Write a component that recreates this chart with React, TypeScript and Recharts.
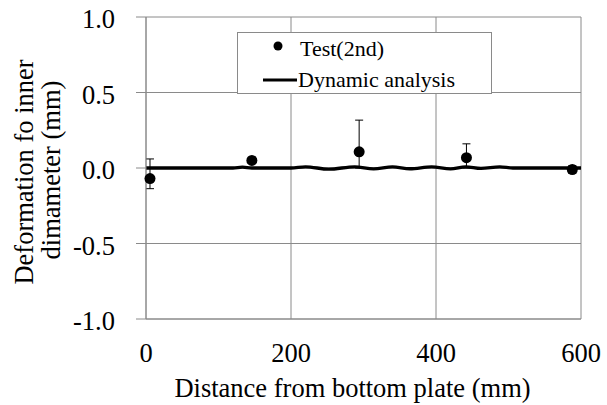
import { ComposedChart, Scatter, Line, XAxis, YAxis, CartesianGrid, ErrorBar } from "recharts"

// Test (2nd) measurements
const testX = [5.5, 146, 294, 442, 588]
const testY = [-0.07, 0.05, 0.107, 0.068, -0.01]
const errLow = [0.067, 0.02, 0.107, 0.068, 0.025]
const errHigh = [0.13, 0.02, 0.21, 0.092, 0.025]

// Dynamic analysis curve
const dynX = [0, 120, 133, 146, 200, 220, 252, 288, 314, 340, 364, 394, 420, 441, 462, 488, 506, 600]
const dynY = [0, 0, 0.006, 0, 0, 0.008, -0.008, 0.008, -0.006, 0.008, -0.005, 0.008, -0.006, 0.008, -0.003, 0.007, 0, 0]

const xTicks = [0, 200, 400, 600]
const yTicks = [-1, -0.5, 0, 0.5, 1]

const seriesNames = ["Test(2nd)", "Dynamic analysis"]

const testData = testX.map((x, i) => ({ x, y: testY[i], err: [errLow[i], errHigh[i]] }))
const dynData = dynX.map((x, i) => ({ x, y: dynY[i] }))

const font = "'Liberation Serif', 'Times New Roman', serif"
const gridColor = "#8a8a8a"

const Dot = (props: any) => <circle cx={props.cx} cy={props.cy} r={5.5} fill="#000" />

// legend box drawn over the plot, like the original
const LegendBox = () => (
  <div
    style={{
      position: "absolute",
      left: 237,
      top: 32,
      width: 255,
      height: 62,
      border: `1px solid ${gridColor}`,
      background: "#fff",
      boxSizing: "border-box",
    }}
  >
    <svg width={253} height={60} style={{ display: "block" }}>
      <circle cx={40} cy={13} r={4.5} fill="#000" />
      <text x={62} y={23} fontFamily={font} fontSize={22} fill="#000">{seriesNames[0]}</text>
      <line x1={25} x2={59} y1={47} y2={47} stroke="#000" strokeWidth={3} />
      <text x={60} y={54} fontFamily={font} fontSize={22} fill="#000">{seriesNames[1]}</text>
    </svg>
  </div>
)

const YTitle = () => (
  <g fontFamily={font} fontSize={26.5} fill="#000">
    <text x={33} y={172} transform="rotate(-90 33 172)" textAnchor="middle">Deformation fo inner</text>
    <text x={60} y={170} transform="rotate(-90 60 170)" textAnchor="middle">dimameter (mm)</text>
  </g>
)

export default function App() {
  return (
    <div style={{ position: "absolute", left: 0, top: 0, width: 607, height: 405, background: "#fff" }}>
      <ComposedChart width={607} height={405} margin={{ top: 17, right: 26, left: 0, bottom: 0 }}>
        <CartesianGrid stroke={gridColor} strokeWidth={1} />
        <XAxis
          dataKey="x"
          type="number"
          domain={[0, 600]}
          ticks={xTicks}
          height={86}
          tickLine={false}
          tickSize={0}
          tickMargin={24}
          stroke={gridColor}
          tick={{ fill: "#000", fontFamily: font, fontSize: 26.5 }}
          label={{ value: "Distance from bottom plate (mm)", position: "insideBottom", offset: 8, dx: -11, fill: "#000", fontFamily: font, fontSize: 26.5 }}
        />
        <YAxis
          type="number"
          domain={[-1, 1]}
          ticks={yTicks}
          width={146}
          tickSize={10}
          tickMargin={21}
          stroke={gridColor}
          tickFormatter={(v: number) => v.toFixed(1)}
          tick={{ fill: "#000", fontFamily: font, fontSize: 26.5, dy: 2 }}
          label={{ content: () => <YTitle /> }}
        />
        <Line
          data={dynData}
          dataKey="y"
          name={seriesNames[1]}
          type="monotone"
          stroke="#000"
          strokeWidth={3.3}
          dot={false}
          isAnimationActive={false}
        />
        <Scatter data={testData} dataKey="y" name={seriesNames[0]} shape={<Dot />} isAnimationActive={false}>
          <ErrorBar dataKey="err" direction="y" width={4} stroke="#000" strokeWidth={1} isAnimationActive={false} />
        </Scatter>
      </ComposedChart>
      <LegendBox />
    </div>
  )
}
